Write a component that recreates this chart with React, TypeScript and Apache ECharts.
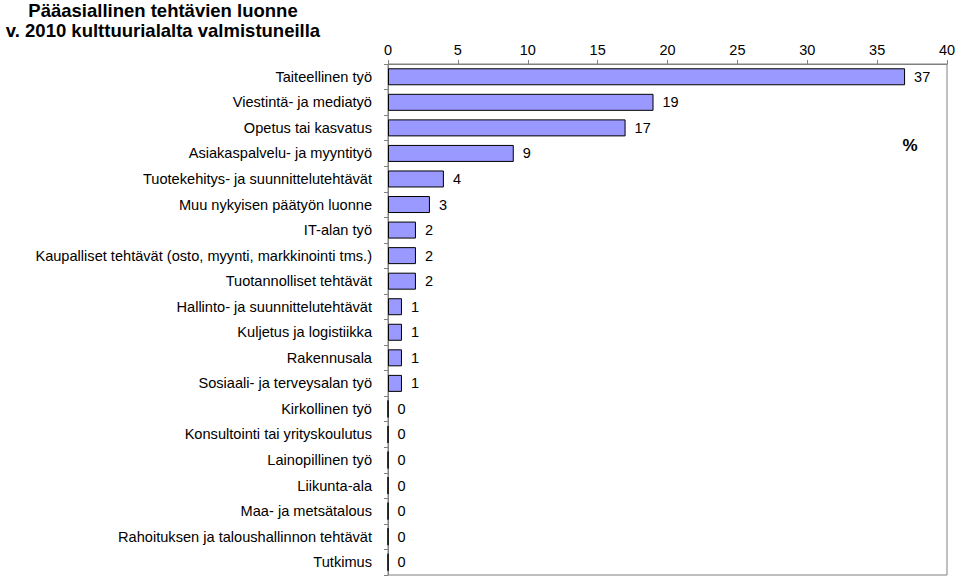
import React, { useEffect, useRef } from "react";
import * as echarts from "echarts";

const categories = [
  "Taiteellinen työ",
  "Viestintä- ja mediatyö",
  "Opetus tai kasvatus",
  "Asiakaspalvelu- ja myyntityö",
  "Tuotekehitys- ja suunnittelutehtävät",
  "Muu nykyisen päätyön luonne",
  "IT-alan työ",
  "Kaupalliset tehtävät (osto, myynti, markkinointi tms.)",
  "Tuotannolliset tehtävät",
  "Hallinto- ja suunnittelutehtävät",
  "Kuljetus ja logistiikka",
  "Rakennusala",
  "Sosiaali- ja terveysalan työ",
  "Kirkollinen työ",
  "Konsultointi tai yrityskoulutus",
  "Lainopillinen työ",
  "Liikunta-ala",
  "Maa- ja metsätalous",
  "Rahoituksen ja taloushallinnon tehtävät",
  "Tutkimus",
];
const values = [37, 19, 17, 9, 4, 3, 2, 2, 2, 1, 1, 1, 1, 0, 0, 0, 0, 0, 0, 0];
const titleLines = ["Pääasiallinen tehtävien luonne", "v. 2010 kulttuurialalta valmistuneilla"];
const unitLabel = "%";

export default function App() {
  const ref = useRef<HTMLDivElement>(null);
  useEffect(() => {
    const chart = echarts.init(ref.current!, null, { renderer: "svg" });
    const font = "Arial, 'Liberation Sans', sans-serif";
    chart.setOption({
      animation: false,
      textStyle: { fontFamily: font },
      graphic: [
        {
          type: "text",
          x: 163,
          y: 0,
          style: {
            text: titleLines.join("\n"),
            textAlign: "center",
            fontFamily: font,
            fontWeight: "bold",
            fontSize: 18.5,
            lineHeight: 20,
            fill: "#000",
          },
        },
        {
          type: "text",
          x: 910,
          y: 145,
          style: {
            text: unitLabel,
            textAlign: "center",
            textVerticalAlign: "middle",
            fontFamily: font,
            fontWeight: "bold",
            fontSize: 17,
            fill: "#000",
          },
        },
      ],
      grid: {
        left: 388,
        top: 64,
        width: 559,
        height: 511,
        show: true,
        borderColor: "#808080",
        borderWidth: 1,
        backgroundColor: "transparent",
      },
      xAxis: {
        type: "value",
        position: "top",
        min: 0,
        max: 40,
        interval: 5,
        axisLine: { show: true, lineStyle: { color: "#808080" } },
        axisTick: { show: true, length: 4, lineStyle: { color: "#808080" } },
        axisLabel: { fontSize: 14.5, color: "#000", margin: 7, fontFamily: font },
        splitLine: { show: false },
      },
      yAxis: {
        type: "category",
        inverse: true,
        data: categories,
        axisLine: { show: true, lineStyle: { color: "#808080" } },
        axisTick: { show: true, length: 4, lineStyle: { color: "#808080" } },
        axisLabel: { fontSize: 14.6, color: "#000", margin: 16, fontFamily: font },
      },
      series: [
        {
          type: "bar",
          data: values,
          barWidth: 17,
          itemStyle: { color: "#9999FF", borderColor: "#000", borderWidth: 1 },
          label: {
            show: true,
            position: "right",
            distance: 9,
            fontSize: 14.5,
            color: "#000",
            fontFamily: font,
          },
        },
      ],
    });
    return () => chart.dispose();
  }, []);
  return (
    <div
      ref={ref}
      style={{ position: "fixed", left: 0, top: 0, width: 960, height: 577, background: "#fff" }}
    />
  );
}
